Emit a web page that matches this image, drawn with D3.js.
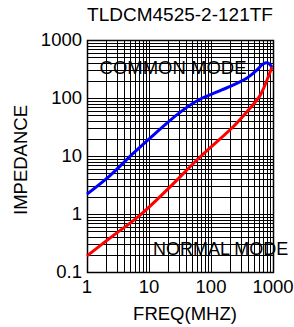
<!DOCTYPE html>
<html>
<head>
<meta charset="utf-8">
<script src="https://cdn.jsdelivr.net/npm/d3@7"></script>
<style>
  body { margin: 0; background: #fff; }
  text { font-family: "Liberation Sans", Arial, sans-serif; fill: #000; }
</style>
</head>
<body>
<div id="chart"></div>
<script>
var width = 294, height = 327;
var margin = { top: 40, right: 21, bottom: 55, left: 87 };

// data
var commonFreq = [1, 2.35, 5.5, 10.4, 19.5, 34, 66, 125, 226, 380, 552, 690, 830, 964];
var commonZ = [2.2, 4.6, 11, 20.4, 37, 60, 95, 127, 167, 221, 304, 385, 401, 342];
var normalFreq = [1, 2.35, 7.2, 19.5, 66.5, 226, 380, 617, 800, 964];
var normalZ = [0.19, 0.385, 0.96, 2.6, 9.6, 31.6, 58, 110, 204, 342];
var xTicks = [1, 10, 100, 1000];
var yTicks = [0.1, 1, 10, 100, 1000];

var svg = d3.select("#chart")
  .append("svg")
  .attr("width", width)
  .attr("height", height);

var xScale = d3.scaleLog()
  .domain([1, 1000])
  .range([margin.left, width - margin.right]);

var yScale = d3.scaleLog()
  .domain([0.1, 1000])
  .range([height - margin.bottom, margin.top]);

// minor grid values 1..9 per decade
var xGrid = [], yGrid = [];
for (var e = 0; e < 3; e++) for (var m = 1; m <= 9; m++) xGrid.push(m * Math.pow(10, e));
xGrid.push(1000);
for (var e2 = -1; e2 < 3; e2++) for (var m2 = 1; m2 <= 9; m2++) yGrid.push(m2 * Math.pow(10, e2));
yGrid.push(1000);

var gridG = svg.append("g").attr("class", "grid");

gridG.selectAll(".vline")
  .data(xGrid)
  .enter()
  .append("line")
  .attr("x1", d => Math.round(xScale(d)) + 0.5)
  .attr("x2", d => Math.round(xScale(d)) + 0.5)
  .attr("y1", margin.top)
  .attr("y2", height - margin.bottom)
  .style("stroke", "#000")
  .style("stroke-width", 1);

gridG.selectAll(".hline")
  .data(yGrid)
  .enter()
  .append("line")
  .attr("y1", d => Math.round(yScale(d)) + 0.5)
  .attr("y2", d => Math.round(yScale(d)) + 0.5)
  .attr("x1", margin.left)
  .attr("x2", width - margin.right)
  .style("stroke", "#000")
  .style("stroke-width", 1);

// border
svg.append("rect")
  .attr("x", margin.left + 0.5)
  .attr("y", margin.top + 0.5)
  .attr("width", xScale(1000) - xScale(1))
  .attr("height", yScale(0.1) - yScale(1000))
  .attr("fill", "none")
  .style("stroke", "#000")
  .style("stroke-width", 1.5);

// mode labels
svg.append("text")
  .attr("x", 173)
  .attr("y", 74)
  .attr("text-anchor", "middle")
  .style("font-size", "18.5px")
  .text("COMMON MODE");

svg.append("text")
  .attr("x", 153)
  .attr("y", 255)
  .style("font-size", "18px")
  .text("NORMAL MODE");

// curves
var line = d3.line()
  .x(d => xScale(d[0]))
  .y(d => yScale(d[1]))
  .curve(d3.curveCatmullRom);

svg.append("path")
  .datum(d3.zip(commonFreq, commonZ))
  .attr("d", line)
  .attr("fill", "none")
  .style("stroke", "#0000ff")
  .style("stroke-width", 3);

svg.append("path")
  .datum(d3.zip(normalFreq, normalZ))
  .attr("d", line)
  .attr("fill", "none")
  .style("stroke", "#ff0000")
  .style("stroke-width", 3);

// tick labels
svg.selectAll(".ylab")
  .data(yTicks)
  .enter()
  .append("text")
  .attr("x", 82)
  .attr("y", d => yScale(d) + 6)
  .attr("text-anchor", "end")
  .style("font-size", "18.5px")
  .text(d => d);

svg.selectAll(".xlab")
  .data(xTicks)
  .enter()
  .append("text")
  .attr("x", d => xScale(d))
  .attr("y", 293)
  .attr("text-anchor", "middle")
  .style("font-size", "18.5px")
  .text(d => d);

// titles
svg.append("text")
  .attr("x", 180)
  .attr("y", 21)
  .attr("text-anchor", "middle")
  .style("font-size", "19px")
  .text("TLDCM4525-2-121TF");

svg.append("text")
  .attr("x", 185)
  .attr("y", 320)
  .attr("text-anchor", "middle")
  .style("font-size", "18.5px")
  .text("FREQ(MHZ)");

svg.append("text")
  .attr("transform", "translate(27,160) rotate(-90)")
  .attr("text-anchor", "middle")
  .style("font-size", "18.5px")
  .text("IMPEDANCE");
</script>
</body>
</html>
